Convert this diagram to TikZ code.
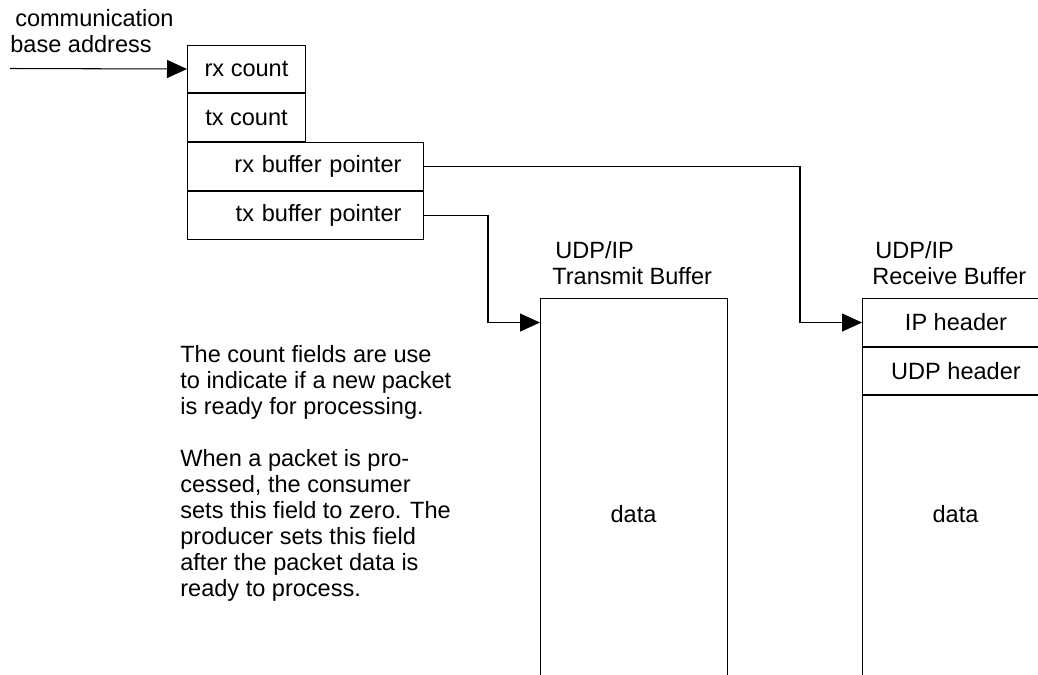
\documentclass[tikz,border=0pt]{standalone}
\usepackage{fontspec}
\setmainfont{Liberation Sans}
\usetikzlibrary{arrows.meta,positioning}

\begin{document}
\begin{tikzpicture}[
    x=0.02cm, y=-0.02cm,
    font=\fontsize{13.4pt}{14.8pt}\selectfont,
    cell/.style={draw, line width=0.6pt, inner sep=0pt, minimum height=0.96cm, align=center},
    ptrcell/.style={cell, text width=3.84cm, inner xsep=0.44cm, align=right},
    bufcell/.style={cell, minimum width=3.74cm},
    lbl/.style={inner sep=0pt, align=left, anchor=north west},
    arr/.style={-{Triangle[length=0.4cm, width=0.36cm]}, line width=0.6pt},
]
    \useasboundingbox (0,0) rectangle (1038,674);
    \clip (0,0) rectangle (1038,674);

    % Communication area
    \node[cell, minimum width=2.36cm, minimum height=0.94cm, anchor=north west] (rxcnt) at (187,45) {rx count};
    \node[cell, minimum width=2.36cm, below=0pt of rxcnt.south west, anchor=north west] (txcnt) {tx count};
    \node[ptrcell, below=0pt of txcnt.south west, anchor=north west] (rxptr) {rx buffer pointer};
    \node[ptrcell, below=0pt of rxptr.south west, anchor=north west] (txptr) {tx buffer pointer};

    \node[lbl] (commlbl) at (10,9) {\hspace{2.8pt}communication\\base address};
    \coordinate (commin) at (10,68.5);
    \draw[arr] (commin) -- (rxcnt.west);

    % Transmit buffer
    \node[bufcell, minimum height=8.8cm, anchor=north west] (txbuf) at (540,298) {};
    \node (txdata) at (633.5,514.5) {data};
    \node[lbl] (txlbl) at (552,241) {\hspace{1.7pt}UDP/IP\\Transmit Buffer};

    % Receive buffer
    \node[bufcell, anchor=north west] (iphdr) at (862,298) {IP header};
    \node[bufcell, minimum height=0.94cm, below=0pt of iphdr.south west, anchor=north west] (udphdr) {UDP header};
    \node[bufcell, minimum height=8cm, below=0pt of udphdr.south west, anchor=north west] (rxdata) {};
    \node (rxdatatxt) at (955.5,514.5) {data};
    \node[lbl] (rxlbl) at (872,241) {\hspace{1.7pt}UDP/IP\\Receive Buffer};

    % Pointers
    \coordinate (rxbend) at (800,0);
    \coordinate (txbend) at (488,0);
    \draw[arr] (rxptr.east) -| (rxbend |- iphdr.west) -- (iphdr.west);
    \draw[arr] (txptr.east) -| (txbend |- iphdr.west) -- (txbuf.west |- iphdr.west);

    % Note
    \node[lbl] (note) at (180,345) {The count fields are use\\to indicate if a new packet\\is ready for processing.\\[14.8pt]When a packet is pro-\\cessed, the consumer\\sets this field to zero. The\\producer sets this field\\after the packet data is\\ready to process.};
\end{tikzpicture}
\end{document}
